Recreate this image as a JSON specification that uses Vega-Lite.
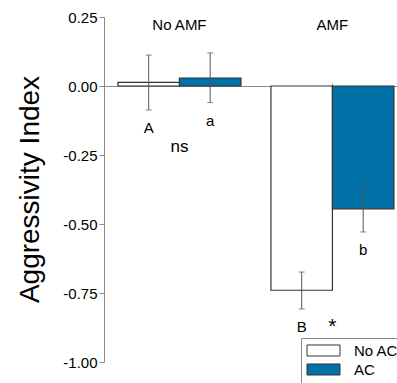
{
  "$schema": "https://vega.github.io/schema/vega-lite/v6.json",
  "width": 293,
  "height": 345,
  "autosize": {"type": "none"},
  "padding": {"left": 104, "top": 17, "right": 0, "bottom": 21},
  "config": {
    "font": "Liberation Sans",
    "view": {"stroke": null},
    "text": {"font": "Liberation Sans", "fontSize": 15, "color": "#000000"}
  },
  "datasets": {
    "bars": [
      {"amf": "No AMF", "ac": "No AC", "mean": 0.013, "lo": -0.087, "hi": 0.112, "letter": "A"},
      {"amf": "No AMF", "ac": "AC", "mean": 0.029, "lo": -0.060, "hi": 0.120, "letter": "a"},
      {"amf": "AMF", "ac": "No AC", "mean": -0.740, "lo": -0.808, "hi": -0.674, "letter": "B"},
      {"amf": "AMF", "ac": "AC", "mean": -0.445, "lo": -0.529, "hi": -0.355, "letter": "b"}
    ],
    "contrasts": [
      {"amf": "No AMF", "sig": "ns", "pos": -0.239},
      {"amf": "AMF", "sig": "*", "pos": -0.896}
    ]
  },
  "encoding": {
    "x": {
      "field": "amf",
      "type": "nominal",
      "sort": ["No AMF", "AMF"],
      "scale": {"domain": ["No AMF", "AMF"], "paddingInner": 0.196, "paddingOuter": 0.0556, "align": 0.82}
    }
  },
  "layer": [
    {
      "data": {"name": "bars"},
      "mark": {"type": "bar", "stroke": "#333333", "strokeWidth": 1.2},
      "encoding": {
        "x": {
          "field": "amf",
          "type": "nominal",
          "title": null,
          "axis": {
            "orient": "top",
            "offset": -69,
            "labels": false,
            "domainColor": "#8a8a8a",
            "domainWidth": 1,
            "tickColor": "#8a8a8a",
            "tickSize": 3,
            "tickWidth": 1
          }
        },
        "xOffset": {"field": "ac", "type": "nominal", "sort": ["No AC", "AC"], "scale": {"domain": ["No AC", "AC"], "paddingInner": 0, "paddingOuter": 0}},
        "y": {
          "field": "mean",
          "type": "quantitative",
          "stack": null,
          "scale": {"domain": [-1, 0.25], "nice": false, "zero": false},
          "title": "Aggressivity Index",
          "axis": {
            "values": [-1, -0.875, -0.75, -0.625, -0.5, -0.375, -0.25, -0.125, 0, 0.125, 0.25],
            "grid": false,
            "domainColor": "#8a8a8a",
            "tickColor": "#8a8a8a",
            "tickSize": {"condition": {"test": "abs(datum.value*4 - round(datum.value*4)) < 0.001", "value": 5}, "value": 3},
            "labelExpr": "abs(datum.value*4 - round(datum.value*4)) < 0.001 ? replace(format(datum.value, '.2f'), '\u2212', '-') : ''",
            "labelFontSize": 15,
            "labelColor": "#000000",
            "labelPadding": 2,
            "titleFontSize": 28,
            "titleFontWeight": "normal",
            "titleColor": "#000000",
            "titleX": -66,
            "titleY": 172,
            "titleAngle": -90,
            "titleAlign": "center",
            "titleBaseline": "alphabetic"
          }
        },
        "y2": {"datum": 0},
        "color": {
          "field": "ac",
          "type": "nominal",
          "scale": {"domain": ["No AC", "AC"], "range": ["#ffffff", "#0072a7"]},
          "legend": {
            "title": null,
            "orient": "none",
            "legendX": 197,
            "legendY": 321,
            "padding": 5,
            "fillColor": "#ffffff",
            "strokeColor": "#8a8a8a",
            "symbolType": "M-2.357,-0.786H2.357V0.786H-2.357Z",
            "symbolSize": 196,
            "symbolStrokeColor": "#333333",
            "symbolStrokeWidth": 1,
            "symbolOffset": 10,
            "labelOffset": 23,
            "labelFontSize": 15,
            "labelColor": "#000000",
            "rowPadding": 2,
            "labelLimit": 200
          }
        }
      }
    },
    {
      "data": {"name": "bars"},
      "mark": {"type": "rule", "color": "#555555", "strokeWidth": 1},
      "encoding": {
        "xOffset": {"field": "ac", "type": "nominal", "sort": ["No AC", "AC"]},
        "y": {"field": "lo", "type": "quantitative"},
        "y2": {"field": "hi"}
      }
    },
    {
      "data": {"name": "bars"},
      "mark": {"type": "tick", "orient": "horizontal", "color": "#555555", "size": 6, "thickness": 1},
      "encoding": {
        "xOffset": {"field": "ac", "type": "nominal", "sort": ["No AC", "AC"]},
        "y": {"field": "lo", "type": "quantitative"}
      }
    },
    {
      "data": {"name": "bars"},
      "mark": {"type": "tick", "orient": "horizontal", "color": "#555555", "size": 6, "thickness": 1},
      "encoding": {
        "xOffset": {"field": "ac", "type": "nominal", "sort": ["No AC", "AC"]},
        "y": {"field": "hi", "type": "quantitative"}
      }
    },
    {
      "data": {"name": "bars"},
      "mark": {"type": "text", "baseline": "alphabetic", "align": "center", "dy": 23, "fontSize": 15},
      "encoding": {
        "xOffset": {"field": "ac", "type": "nominal", "sort": ["No AC", "AC"]},
        "y": {"field": "lo", "type": "quantitative"},
        "text": {"field": "letter"}
      }
    },
    {
      "data": {"name": "contrasts"},
      "mark": {"type": "text", "baseline": "alphabetic", "align": "center"},
      "encoding": {
        "y": {"field": "pos", "type": "quantitative"},
        "text": {"field": "sig"},
        "size": {"condition": {"test": "datum.sig == '*'", "value": 21}, "value": 17}
      }
    },
    {
      "data": {"name": "contrasts"},
      "mark": {"type": "text", "baseline": "alphabetic", "align": "center", "fontSize": 15},
      "encoding": {
        "y": {"datum": 0.203},
        "text": {"field": "amf"}
      }
    }
  ]
}
